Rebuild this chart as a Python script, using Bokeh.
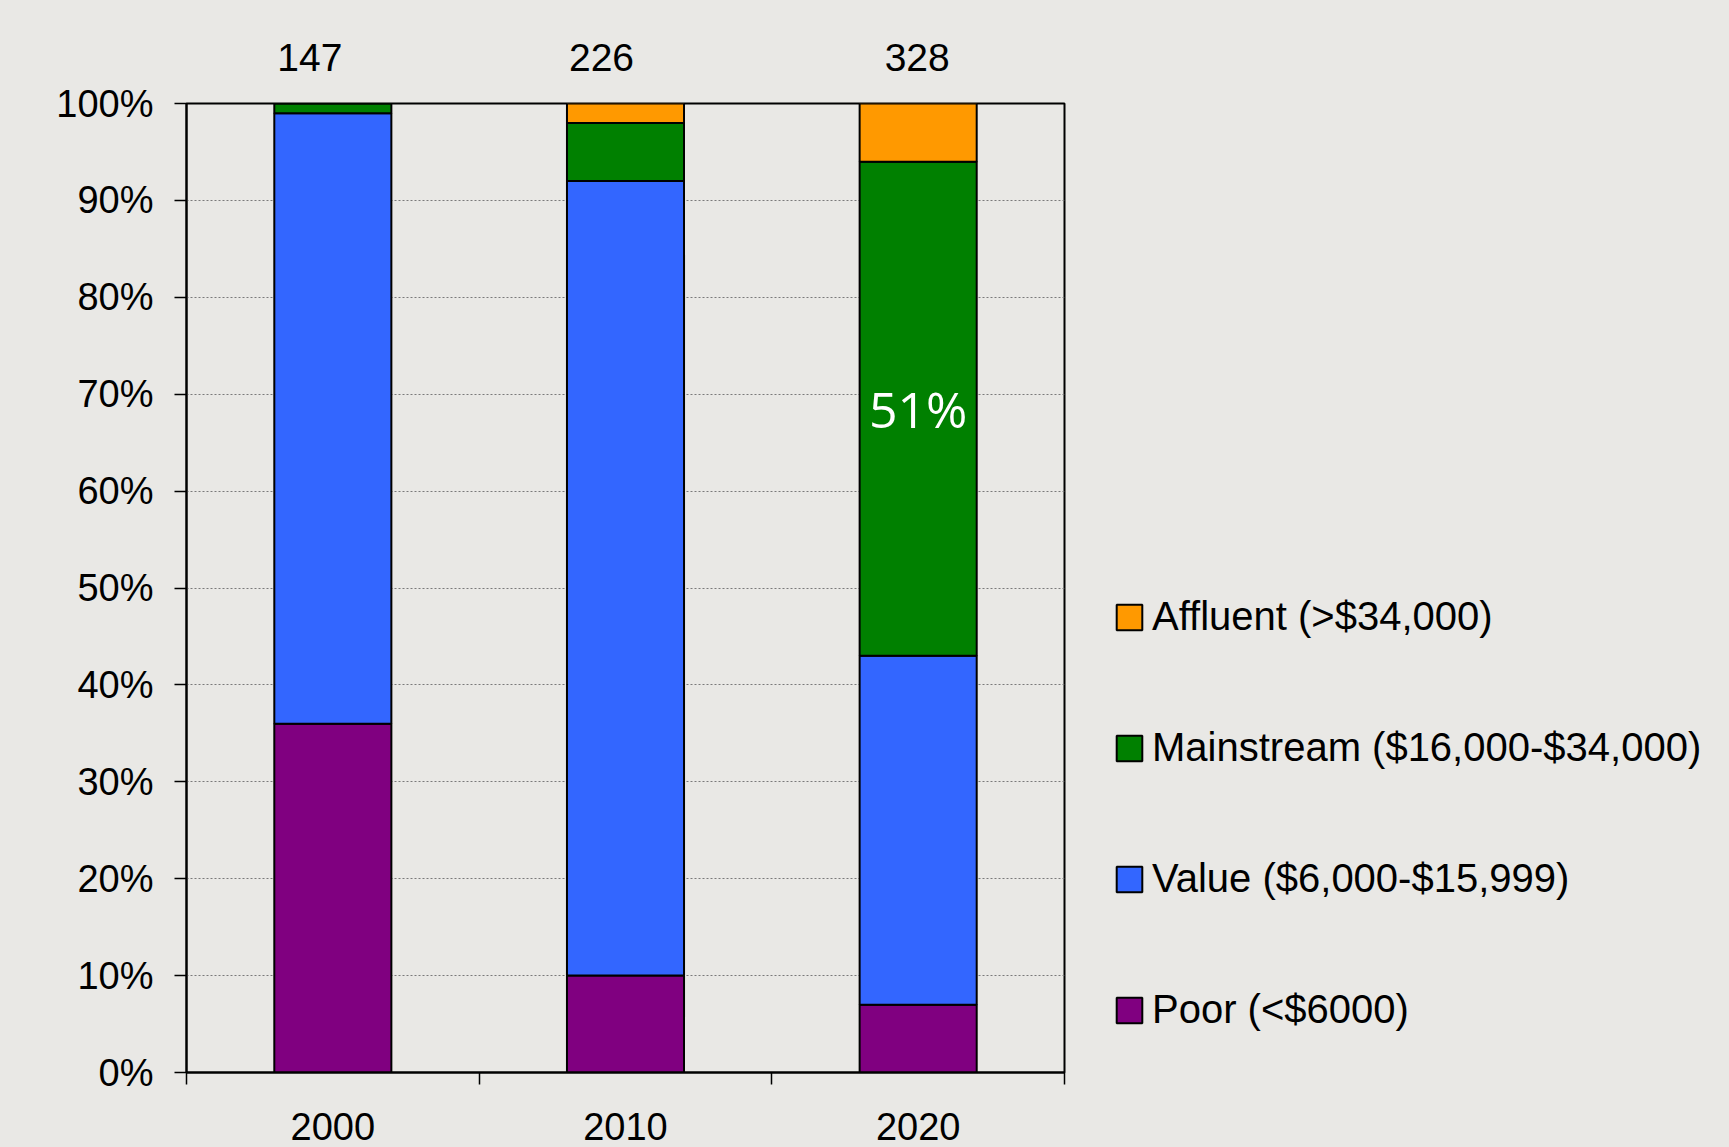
from bokeh.plotting import figure
from bokeh.layouts import row
from bokeh.models import (ColumnDataSource, FixedTicker, PrintfTickFormatter, LabelSet,
                          Legend, LegendItem, Range1d, LinearAxis, CustomJSTickFormatter)
from bokeh.core.properties import value
from bokeh.embed import file_html
from bokeh.resources import INLINE

# ---- data ----
years = [2000, 2010, 2020]
year_labels = ["2000", "2010", "2020"]
poor = [36, 10, 7]
value_seg = [63, 82, 36]
mainstream = [1, 6, 51]
affluent = [0, 2, 6]
totals = [147, 226, 328]
segment_keys = ["poor", "value", "mainstream", "affluent"]
segment_labels = ["Poor (<$6000)", "Value ($6,000-$15,999)",
                  "Mainstream ($16,000-$34,000)", "Affluent (>$34,000)"]
colors = ["#800080", "#3366FF", "#008000", "#FF9900"]
y_ticks = list(range(0, 101, 10))
category_edges = [1995, 2005, 2015, 2025]

# ---- style ----
FONT = "Liberation Sans"
BG = "#E9E8E5"
total_dx_px = [-23, -24, -1]

W, H = 1729, 1147
W1 = 1090                      # chart panel width
ML, MT, MB, MR = 186, 103, 75, 26
FRAME_W = W1 - ML - MR         # 878

src = ColumnDataSource(dict(x=years, poor=poor, value=value_seg,
                            mainstream=mainstream, affluent=affluent))

p = figure(width=W1, height=H, x_range=Range1d(category_edges[0], category_edges[-1]),
           y_range=Range1d(0, 100), output_backend="svg", toolbar_location=None,
           min_border_left=ML, min_border_right=MR, min_border_top=MT, min_border_bottom=MB)
p.background_fill_color = BG
p.border_fill_color = BG
p.outline_line_color = "black"
p.outline_line_width = 2

rs = p.vbar_stack(segment_keys, x="x", width=4, fill_color=colors, line_color="black",
                  line_width=2, source=src)

# grid
p.xgrid.visible = False
p.ygrid.ticker = FixedTicker(ticks=y_ticks)
p.ygrid.grid_line_color = "#7a7a7a"
p.ygrid.grid_line_dash = "2 2"
p.ygrid.grid_line_width = 1

# y axis
ya = p.yaxis[0]
ya.ticker = FixedTicker(ticks=y_ticks)
ya.formatter = PrintfTickFormatter(format="%d%%")
ya.major_tick_out = 12
ya.major_tick_in = 0
ya.minor_tick_out = 0
ya.minor_tick_in = 0
ya.axis_line_width = 2
ya.axis_line_color = "black"
ya.major_tick_line_color = "black"
ya.major_tick_line_width = 1.5
ya.major_label_text_font = FONT
ya.major_label_text_font_size = "38px"
ya.major_label_text_color = "black"
ya.major_label_standoff = 21

# x axis: labels at bar centres, ticks at category edges
xa = p.xaxis[0]
xa.ticker = FixedTicker(ticks=years, minor_ticks=category_edges)
xa.major_label_overrides = {y: t for y, t in zip(years, year_labels)}
xa.major_tick_out = 0
xa.major_tick_in = 0
xa.minor_tick_out = 12
xa.minor_tick_in = 0
xa.minor_tick_line_color = "black"
xa.minor_tick_line_width = 1.5
xa.axis_line_width = 2
xa.axis_line_color = "black"
xa.major_label_text_font = FONT
xa.major_label_text_font_size = "38px"
xa.major_label_text_color = "black"
xa.major_label_standoff = 28

# totals shown above the bars (top axis)
span = category_edges[-1] - category_edges[0]
total_pos = [yr + dx * span / FRAME_W for yr, dx in zip(years, total_dx_px)]
top_axis = LinearAxis(
    ticker=FixedTicker(ticks=total_pos),
    formatter=CustomJSTickFormatter(args=dict(labels=[str(t) for t in totals]),
                                    code="return labels[index]"),
    axis_line_color=None, major_tick_line_color=None, minor_tick_line_color=None,
    major_label_standoff=27, major_label_text_font=FONT,
    major_label_text_font_size="39px", major_label_text_color="black")
p.add_layout(top_axis, "above")

# highlighted mainstream share for 2020
hl_src = ColumnDataSource(dict(x=[years[2]], y=[poor[2] + value_seg[2] + mainstream[2] / 2],
                               text=[f"{mainstream[2]}%"]))
p.add_layout(LabelSet(x="x", y="y", text="text", source=hl_src,
                      text_align="center", text_baseline="middle",
                      text_font=value("Open Sans"), text_font_size="50px",
                      text_color="white"))

# ---- legend panel (second figure, same source and colours) ----
p2 = figure(width=W - W1, height=H, x_range=Range1d(0, 1), y_range=Range1d(0, 1),
            output_backend="svg", toolbar_location=None,
            x_axis_location=None, y_axis_location=None, min_border=0)
p2.background_fill_alpha = 0
p2.border_fill_color = BG
p2.outline_line_color = None
p2.grid.visible = False
rs2 = p2.vbar_stack(segment_keys, x="x", width=4, fill_color=colors, line_color="black",
                    line_width=2, source=src)
for r in rs2:
    r.visible = False   # only used for the legend swatches

items = [LegendItem(label=segment_labels[i], renderers=[rs2[i]]) for i in reversed(range(4))]
legend = Legend(items=items, location=(23, 40), orientation="vertical",
                glyph_width=32, glyph_height=32, label_height=32, spacing=86,
                padding=0, margin=0, border_line_color=None, background_fill_alpha=0,
                inactive_fill_alpha=0,
                label_text_font=FONT, label_text_font_size="40px", label_text_color="black",
                label_standoff=7)
p2.add_layout(legend)

layout = row(p, p2, spacing=0, styles={"background-color": BG})
open("out.html", "w").write(file_html(layout, INLINE))
